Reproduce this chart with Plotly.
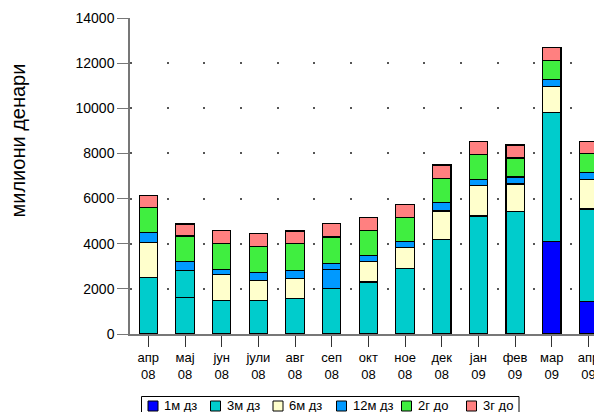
import plotly.graph_objects as go

months = ["апр<br>08", "мај<br>08", "јун<br>08", "јули<br>08", "авг<br>08", "сеп<br>08",
          "окт<br>08", "ное<br>08", "дек<br>08", "јан<br>09", "фев<br>09", "мар<br>09", "апр<br>09"]

m1_dz  = [0, 0, 0, 0, 0, 0, 0, 0, 0, 0, 0, 4090, 1440]
m3_dz  = [2520, 1600, 1500, 1490, 1580, 2020, 2300, 2890, 4180, 5230, 5420, 5710, 4100]
m3_dz_b = [None, 1220, None, None, None, None, None, None, None, None, None, None, None]
m6_dz  = [1550, 0, 1140, 885, 880, 0, 915, 945, 1270, 1340, 1225, 1165, 1300]
m12_dz = [430, 380, 220, 355, 355, 840, 265, 265, 370, 280, 310, 295, 300]
m12_dz_b = [None, None, None, None, None, 265, None, None, None, None, None, None, None]
g2_do  = [1120, 1140, 1150, 1150, 1200, 1170, 1090, 1060, 1075, 1120, 840, 855, 840]
g3_do  = [530, 530, 560, 575, 545, 590, 575, 575, 595, 560, 575, 575, 560]

y_ticks = [0, 2000, 4000, 6000, 8000, 10000, 12000, 14000]

series = [
    ("1м дз", m1_dz, "#0000FF", True),
    ("3м дз", m3_dz, "#00CCCC", True),
    ("3м дз", m3_dz_b, "#00CCCC", False),
    ("6м дз", m6_dz, "#FFFFCC", True),
    ("12м дз", m12_dz, "#0099FF", True),
    ("12м дз", m12_dz_b, "#0099FF", False),
    ("2г до", g2_do, "#40EE40", True),
    ("3г до", g3_do, "#FF8080", True),
]

# page geometry (the page body adds an 8px offset)
OFF = 8
W, H = 602, 412
ML, MR, MT, MB = 130, 0, 18, 78          # in page pixels
PW, PH = W - ML - MR, H - MT - MB


def px(xp):
    return (xp - ML) / PW


def py(yp):
    return (H - MB - yp) / PH


x = list(range(len(months)))
font = "Liberation Sans, Arial, sans-serif"

fig = go.Figure()
for name, vals, color, show in series:
    ys = [None if (v is None or v == 0) else v for v in vals]
    fig.add_trace(go.Bar(
        x=x, y=ys, name=name, showlegend=False,
        marker=dict(color=color, line=dict(color="#000000", width=1.2)),
        width=0.5,
    ))

# compact legend (box + swatches + labels)
shapes = [dict(type="rect", xref="paper", yref="paper",
               x0=px(141.5), x1=px(519), y0=py(396.5), y1=py(440),
               line=dict(color="#000", width=1), fillcolor="white", layer="below")]
annotations = []
legend_items = [(n, c) for n, _, c, s in series if s]
swatch_x = [148, 210.5, 273, 336.5, 401.5, 466.5]
for (name, color), sx in zip(legend_items, swatch_x):
    shapes.append(dict(type="rect", xref="paper", yref="paper",
                       x0=px(sx), x1=px(sx + 10), y0=py(401), y1=py(411),
                       line=dict(color="#000", width=1), fillcolor=color))
    annotations.append(dict(text=name, xref="paper", yref="paper",
                            x=px(sx + 14), y=py(405), xanchor="left", yanchor="middle",
                            showarrow=False, font=dict(size=13, family=font, color="#000")))

annotations.append(dict(
    text="милиони денари", textangle=-90, xref="paper", yref="paper",
    x=px(17.5), y=py(141), xanchor="center", yanchor="middle",
    showarrow=False, font=dict(size=20, family=font, color="#000"),
))

fig.update_layout(
    barmode="stack",
    width=W - OFF, height=H - OFF,
    margin=dict(l=ML - OFF, r=MR, t=MT - OFF, b=MB, autoexpand=False),
    paper_bgcolor="white", plot_bgcolor="white",
    font=dict(family=font, size=14, color="#000"),
    showlegend=False,
    xaxis=dict(
        range=[-0.5, 12.37], tickmode="array", tickvals=x, ticktext=months,
        showline=True, linecolor="#777", linewidth=1.5,
        ticks="outside", ticklen=11, tickcolor="#333", tickwidth=1,
        showgrid=False, zeroline=False, tickfont=dict(size=13),
    ),
    yaxis=dict(
        range=[0, 14000], tickvals=y_ticks, tickformat="d",
        showline=True, linecolor="#777", linewidth=1.5,
        ticks="outside", ticklen=11, tickcolor="#777", tickwidth=1,
        showgrid=True, gridcolor="#555", gridwidth=2, griddash="2px,34.67px",
        zeroline=False, tickfont=dict(size=14),
    ),
    shapes=shapes,
    annotations=annotations,
)

fig.write_html("out.html")
